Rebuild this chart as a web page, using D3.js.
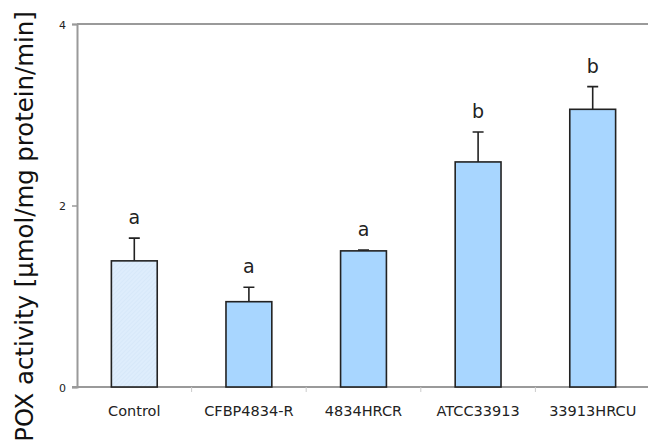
<!DOCTYPE html>
<html>
<head>
<meta charset="utf-8">
<script src="https://cdn.jsdelivr.net/npm/d3@7"></script>
<style>
body { margin: 0; background: #fff; }
svg { display: block; font-family: "DejaVu Sans", Verdana, sans-serif; }
</style>
</head>
<body>
<div id="chart"></div>
<script>
// data
var strains = ["Control", "CFBP4834-R", "4834HRCR", "ATCC33913", "33913HRCU"];
var pox = [1.39, 0.94, 1.50, 2.48, 3.06];
var poxErr = [0.25, 0.16, 0.01, 0.33, 0.25];
var groups = ["a", "a", "a", "b", "b"];
var yTicks = [0, 2, 4];

var width = 648, height = 444;
var plotLeft = 77, plotRight = 650, plotTop = 24, plotBottom = 387;

var svg = d3.select("#chart").append("svg")
    .attr("width", width)
    .attr("height", height);

// faint hatch for the control bar
var defs = svg.append("defs");
var pat = defs.append("pattern")
    .attr("id", "hatch")
    .attr("patternUnits", "userSpaceOnUse")
    .attr("width", 3).attr("height", 3)
    .attr("patternTransform", "rotate(45)");
pat.append("rect").attr("width", 3).attr("height", 3).attr("fill", "#deedfc");
pat.append("line").attr("x1", 0).attr("y1", 0).attr("x2", 0).attr("y2", 3)
    .attr("stroke", "#d0e3f7").attr("stroke-width", 1);

var x = d3.scaleBand()
    .domain(strains)
    .range([plotLeft, plotRight])
    .paddingInner(0.6)
    .paddingOuter(0.3);

var y = d3.scaleLinear()
    .domain([0, 4])
    .range([plotBottom, plotTop]);

// top frame line
svg.append("line")
    .attr("x1", plotLeft).attr("x2", plotRight)
    .attr("y1", y(4)).attr("y2", y(4))
    .attr("stroke", "#9a9a9a").attr("stroke-width", 2);

// y axis
var yAxis = svg.append("g")
    .attr("transform", "translate(" + plotLeft + ",0)")
    .call(d3.axisLeft(y).tickValues(yTicks).tickSize(5).tickPadding(6).tickFormat(d3.format("d")));
yAxis.select(".domain").attr("stroke", "#9a9a9a").attr("stroke-width", 2);
yAxis.selectAll(".tick line").attr("stroke", "#9a9a9a").attr("stroke-width", 1.5);
yAxis.selectAll(".tick text").attr("font-size", 11).attr("fill", "#222")
    .attr("font-family", "DejaVu Sans, sans-serif").attr("dy", "0.4em");

// x axis with ticks at band edges
var edges = strains.map(function(d){ return x(d) - x.step() * x.paddingInner() / 2; }).slice(1);
var xg = svg.append("g");
xg.append("line")
    .attr("x1", plotLeft - 5).attr("x2", plotRight)
    .attr("y1", plotBottom).attr("y2", plotBottom)
    .attr("stroke", "#9a9a9a").attr("stroke-width", 2);
xg.selectAll(".xt").data(edges).enter().append("line")
    .attr("x1", function(d){ return d; }).attr("x2", function(d){ return d; })
    .attr("y1", plotBottom).attr("y2", plotBottom + 5)
    .attr("stroke", "#cccccc").attr("stroke-width", 1);
xg.selectAll(".xl").data(strains).enter().append("text")
    .attr("x", function(d){ return x(d) + x.bandwidth() / 2; })
    .attr("y", 416)
    .attr("text-anchor", "middle")
    .attr("font-size", 14.5)
    .attr("fill", "#222")
    .text(function(d){ return d; });

// bars
svg.selectAll(".bar").data(strains).enter().append("rect")
    .attr("x", function(d){ return x(d); })
    .attr("y", function(d, i){ return y(pox[i]); })
    .attr("width", x.bandwidth())
    .attr("height", function(d, i){ return y(0) - y(pox[i]); })
    .attr("fill", function(d, i){ return i == 0 ? "url(#hatch)" : "#a8d6ff"; })
    .attr("stroke", "#222")
    .attr("stroke-width", 1.6);

// error bars (upper only)
var cap = 5.5;
svg.selectAll(".err").data(strains).enter().append("path")
    .attr("d", function(d, i){
        var cx = x(d) + x.bandwidth() / 2;
        var y0 = y(pox[i]), y1 = y(pox[i] + poxErr[i]);
        return "M" + cx + "," + y0 + "V" + y1 + "M" + (cx - cap) + "," + y1 + "H" + (cx + cap);
    })
    .attr("fill", "none")
    .attr("stroke", "#222")
    .attr("stroke-width", 1.6);

// significance letters
svg.selectAll(".sig").data(strains).enter().append("text")
    .attr("x", function(d){ return x(d) + x.bandwidth() / 2; })
    .attr("y", function(d, i){ return y(pox[i] + poxErr[i]) - 14; })
    .attr("text-anchor", "middle")
    .attr("font-size", 19)
    .attr("fill", "#222")
    .text(function(d, i){ return groups[i]; });

// y title
svg.append("text")
    .attr("transform", "translate(33,226.5) rotate(-90)")
    .attr("text-anchor", "middle")
    .attr("font-size", 24.4)
    .attr("fill", "#111")
    .text("POX activity [µmol/mg protein/min]");
</script>
</body>
</html>
